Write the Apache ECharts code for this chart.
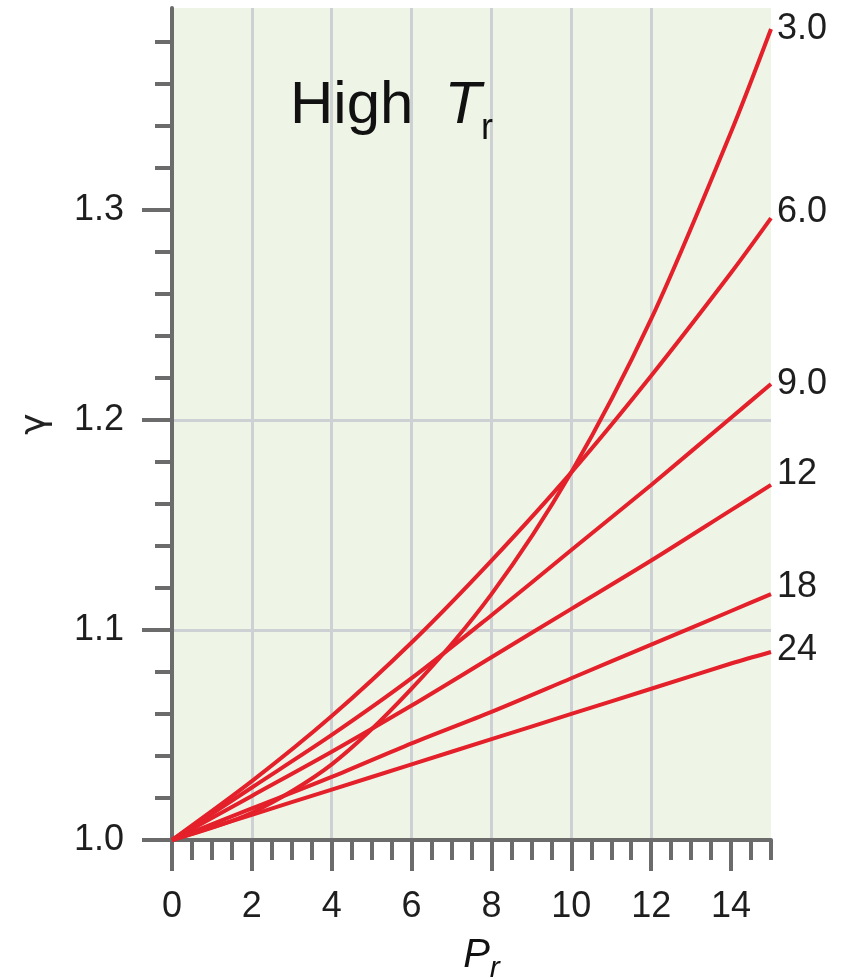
<!DOCTYPE html>
<html>
<head>
<meta charset="utf-8">
<script src="https://cdn.jsdelivr.net/npm/echarts@6/dist/echarts.min.js"></script>
<style>
html,body{margin:0;padding:0;background:#fff;}
#c{width:850px;height:979px;}
</style>
</head>
<body>
<div id="c"></div>
<script>
// ---- data ----
var pr = [0, 2, 4, 6, 8, 10, 12, 14, 15];
var seriesNames = ['3.0', '6.0', '9.0', '12', '18', '24'];
var g30 = [1.000, 1.013, 1.036, 1.072, 1.117, 1.175, 1.248, 1.337, 1.386];
var g60 = [1.000, 1.028, 1.059, 1.094, 1.133, 1.175, 1.221, 1.270, 1.296];
var g90 = [1.000, 1.025, 1.050, 1.077, 1.107, 1.138, 1.169, 1.201, 1.217];
var g12 = [1.000, 1.021, 1.042, 1.064, 1.087, 1.110, 1.133, 1.157, 1.169];
var g18 = [1.000, 1.015, 1.030, 1.046, 1.061, 1.077, 1.093, 1.109, 1.117];
var g24 = [1.000, 1.012, 1.024, 1.036, 1.048, 1.060, 1.072, 1.084, 1.0895];
var xMajorTicks = [0, 2, 4, 6, 8, 10, 12, 14];
var xMinorTicks = [0.5, 1, 1.5, 2.5, 3, 3.5, 4.5, 5, 5.5, 6.5, 7, 7.5, 8.5, 9, 9.5, 10.5, 11, 11.5, 12.5, 13, 13.5, 14.5, 15];
var yMajorTicks = [1.0, 1.1, 1.2, 1.3];
var yMinorTicks = [1.02, 1.04, 1.06, 1.08, 1.12, 1.14, 1.16, 1.18, 1.22, 1.24, 1.26, 1.28, 1.32, 1.34, 1.36, 1.38];
var allSeries = [g30, g60, g90, g12, g18, g24];

// ---- styles ----
var labelDy = [0, -6, 0, -11, -7, -2];
var axisColor = '#6b6b6b';
var gridColor = '#cdd1d3';
var red = '#e4202a';
var font = 'Liberation Sans, Arial, sans-serif';

var chart = echarts.init(document.getElementById('c'), null, {renderer: 'canvas'});

var series = allSeries.map(function (vals, i) {
  return {
    name: seriesNames[i],
    type: 'line',
    xAxisIndex: 0,
    yAxisIndex: 0,
    smooth: 0.3,
    symbol: 'none',
    lineStyle: {color: red, width: 4},
    data: pr.map(function (x, j) { return [x, vals[j]]; }),
    endLabel: {
      show: true,
      formatter: seriesNames[i],
      fontSize: 36,
      fontFamily: font,
      color: '#1e1e1e',
      distance: 6,
      offset: [0, labelDy[i]]
    },
    z: 5
  };
});

var option = {
  animation: false,
  backgroundColor: '#ffffff',
  title: {
    text: '{a|High}{i|T}{s|r}',
    left: 285,
    top: 60,
    textStyle: {
      rich: {
        a: {fontSize: 60, fontFamily: font, fontWeight: 'normal', color: '#111'},
        i: {fontSize: 60, fontFamily: font, fontWeight: 'normal', fontStyle: 'italic', color: '#111', padding: [0, 0, 0, 31]},
        s: {fontSize: 36, fontFamily: font, fontWeight: 'normal', color: '#111', padding: [46, 0, 0, 0]}
      }
    }
  },
  grid: {
    left: 172, right: 79, top: 8, bottom: 139,
    outerBoundsMode: 'none',
    containLabel: false,
    show: true, backgroundColor: '#eef5e7', borderWidth: 0
  },
  xAxis: [{
    type: 'value', min: 0, max: 15, interval: 2, position: 'bottom',
    name: '{p|P}{r|r}',
    nameLocation: 'middle',
    nameGap: 88,
    nameTextStyle: {
      padding: [0, 0, 0, 20],
      rich: {
        p: {fontSize: 40, fontFamily: font, fontStyle: 'italic', color: '#111'},
        r: {fontSize: 30, fontFamily: font, fontStyle: 'italic', color: '#111', padding: [26, 0, 0, 0]}
      }
    },
    axisLine: {show: true, onZero: false, lineStyle: {color: axisColor, width: 4}},
    axisTick: {show: true, inside: false, length: 31, customValues: xMajorTicks, lineStyle: {color: axisColor, width: 4}},
    axisLabel: {show: true, customValues: xMajorTicks, margin: 49, fontSize: 36, fontFamily: font, color: '#1e1e1e'},
    splitLine: {show: true, showMinLine: false, showMaxLine: false, lineStyle: {color: gridColor, width: 3}}
  }, {
    type: 'value', min: 0, max: 15, position: 'bottom', gridIndex: 0,
    axisLine: {show: false},
    axisTick: {show: true, inside: false, length: 20, customValues: xMinorTicks, lineStyle: {color: axisColor, width: 4}},
    axisLabel: {show: false},
    splitLine: {show: false}
  }],
  yAxis: [{
    type: 'value', min: 1.0, max: 1.396, interval: 0.1, position: 'left',
    name: 'γ',
    nameLocation: 'middle',
    nameGap: 118,
    nameTextStyle: {fontSize: 36, fontFamily: 'DejaVu Sans, sans-serif', color: '#222'},
    axisLine: {show: true, onZero: false, lineStyle: {color: axisColor, width: 4}},
    axisTick: {show: true, inside: false, length: 30, customValues: yMajorTicks, lineStyle: {color: axisColor, width: 4}},
    axisLabel: {show: true, customValues: yMajorTicks, margin: 48, fontSize: 36, fontFamily: font, color: '#1e1e1e',
      formatter: function (v) { return v.toFixed(1); }},
    splitLine: {show: true, showMinLine: false, showMaxLine: false, lineStyle: {color: gridColor, width: 3}}
  }, {
    type: 'value', min: 1.0, max: 1.396, position: 'left', gridIndex: 0,
    axisLine: {show: false},
    axisTick: {show: true, inside: false, length: 17, customValues: yMinorTicks, lineStyle: {color: axisColor, width: 4}},
    axisLabel: {show: false},
    splitLine: {show: false}
  }],
  series: series
};

chart.setOption(option);
</script>
</body>
</html>
